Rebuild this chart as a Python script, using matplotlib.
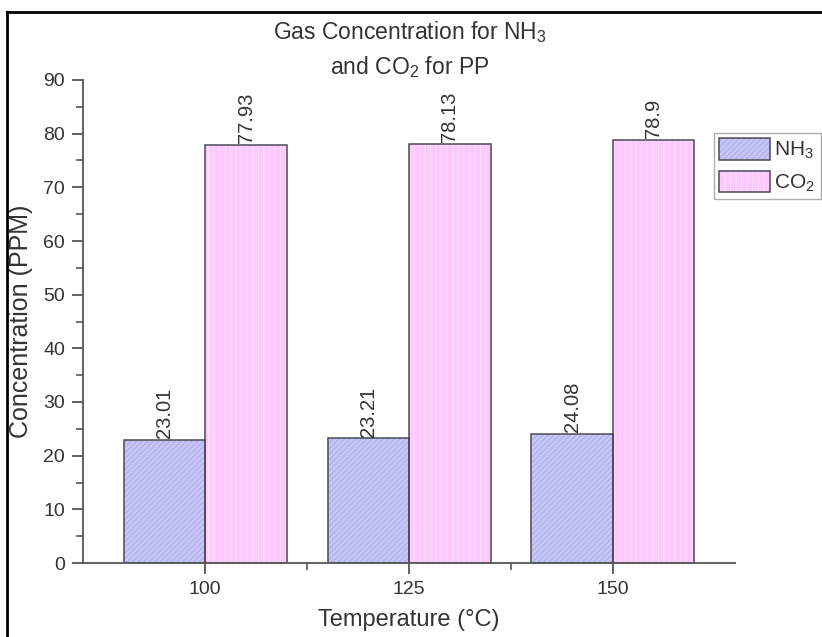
import numpy as np
import matplotlib
matplotlib.use("Agg")
import matplotlib.pyplot as plt
from matplotlib.patches import Patch
from matplotlib.lines import Line2D
from matplotlib.legend_handler import HandlerTuple

# data
temps = [100, 125, 150]
nh3 = [23.01, 23.21, 24.08]
co2 = [77.93, 78.13, 78.9]
nh3_labels = ["23.01", "23.21", "24.08"]
co2_labels = ["77.93", "78.13", "78.9"]

plt.rcParams['font.family'] = ['Liberation Sans', 'DejaVu Sans']
plt.rcParams['mathtext.default'] = 'regular'
plt.rcParams['hatch.linewidth'] = 0.6

txt = '#333333'
edge = '#4a4a55'
nh3_face, nh3_hatch = '#c6c6f6', '#a9a9e6'
co2_face, co2_hatch = '#ffc8ff', '#ffe6ff'

W, H = 822, 637
fig = plt.figure(figsize=(W / 100, H / 100), dpi=100)
ax = fig.add_axes([83 / W, 1 - 563 / H, (735 - 83) / W, (563 - 80) / H])

bw = 10
x = np.array(temps, dtype=float)
# hatched fill first, then the outline on top
ax.bar(x - bw / 2, nh3, bw, color=nh3_face, edgecolor=nh3_hatch, hatch='//////', linewidth=0)
ax.bar(x + bw / 2, co2, bw, color=co2_face, edgecolor=co2_hatch, hatch='|||', linewidth=0)
ax.bar(x - bw / 2, nh3, bw, facecolor='none', edgecolor=edge, linewidth=1.1)
ax.bar(x + bw / 2, co2, bw, facecolor='none', edgecolor=edge, linewidth=1.1)

for xi, v, s in zip(x - bw / 2, nh3, nh3_labels):
    ax.text(xi, v + 0.3, s, rotation=90, ha='center', va='bottom', fontsize=14.5, color=txt)
for xi, v, s in zip(x + bw / 2, co2, co2_labels):
    ax.text(xi, v + 0.3, s, rotation=90, ha='center', va='bottom', fontsize=14.5, color=txt)

ax.set_xlim(85, 165)
ax.set_ylim(0, 90)
ax.set_xticks(temps)
ax.set_xticks([112.5, 137.5], minor=True)
ax.set_yticks(np.arange(0, 91, 10))
ax.set_yticks(np.arange(5, 90, 10), minor=True)

for side in ['top', 'right']:
    ax.spines[side].set_visible(False)
for side in ['left', 'bottom']:
    ax.spines[side].set_color('#555555')
    ax.spines[side].set_linewidth(1.3)

ax.tick_params(which='major', direction='out', length=8, width=1.3, color='#555555',
               labelsize=14, labelcolor=txt, pad=5)
ax.tick_params(which='minor', direction='out', length=5, width=1.2, color='#555555')

ax.set_xlabel('Temperature (°C)', fontsize=17, color=txt, labelpad=8)
ax.set_ylabel('Concentration (PPM)', fontsize=18, color=txt, labelpad=7)

fig.text(410 / W, 1 - 32 / H, 'Gas Concentration for NH$_3$', ha='center', va='center',
         fontsize=16.5, color=txt)
fig.text(410 / W, 1 - 67 / H, 'and CO$_2$ for PP', ha='center', va='center',
         fontsize=16.5, color=txt)

h_nh3 = (Patch(facecolor=nh3_face, edgecolor=nh3_hatch, hatch='//////', linewidth=0),
         Patch(facecolor='none', edgecolor=edge, linewidth=1.1))
h_co2 = (Patch(facecolor=co2_face, edgecolor=co2_hatch, hatch='|||', linewidth=0),
         Patch(facecolor='none', edgecolor=edge, linewidth=1.1))
leg = fig.legend([h_nh3, h_co2], ['NH$_3$', 'CO$_2$'],
                 handler_map={tuple: HandlerTuple(ndivide=1)},
                 loc='upper left', bbox_to_anchor=(714 / W, 1 - 133 / H),
                 bbox_transform=fig.transFigure, fontsize=15, frameon=True, fancybox=False,
                 handlelength=2.45, handleheight=1.2, handletextpad=0.2,
                 labelspacing=0.45, borderpad=0.25, borderaxespad=0)
leg.get_frame().set_edgecolor('#999999')
leg.get_frame().set_linewidth(1.0)
for t in leg.get_texts():
    t.set_color(txt)

# black frame of the picture: only left and top edges are inside the image
fx, fy = 7 / W, 1 - 12 / H
fig.add_artist(Line2D([fx, fx], [0, fy], color='black', linewidth=2, transform=fig.transFigure))
fig.add_artist(Line2D([fx, 1], [fy, fy], color='black', linewidth=2, transform=fig.transFigure))

fig.savefig('out.png', dpi=100)
